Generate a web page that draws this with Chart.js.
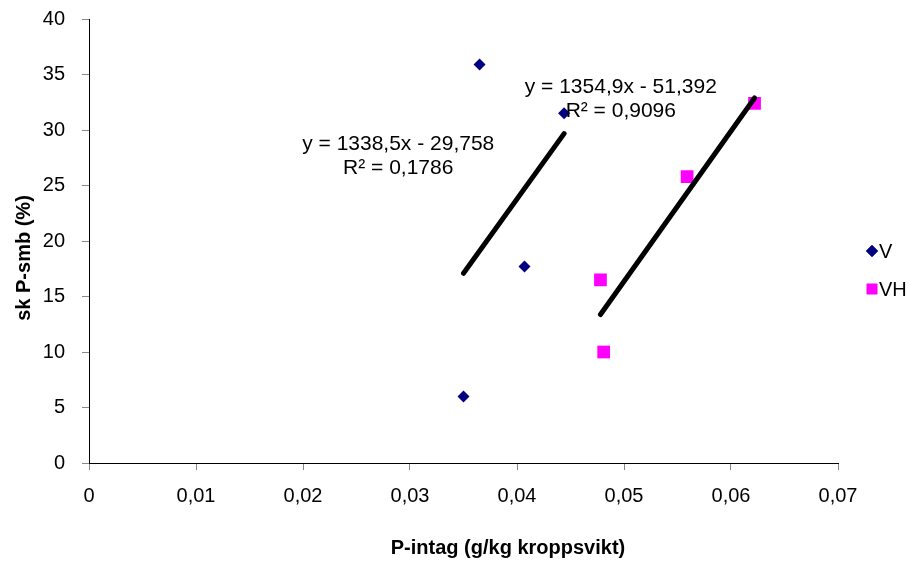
<!DOCTYPE html>
<html>
<head>
<meta charset="utf-8">
<script src="https://cdn.jsdelivr.net/npm/chart.js@4/dist/chart.umd.min.js"></script>
<style>
  html, body { margin: 0; padding: 0; background: #fff; }
  #wrap { width: 910px; height: 563px; position: relative; }
</style>
</head>
<body>
<div id="wrap"><canvas id="chart"></canvas></div>
<script>
// ==== Data ====
const vX = [0.0365, 0.0444, 0.0407, 0.0350];
const vY = [35.9, 31.5, 17.7, 6.0];
const vhX = [0.0478, 0.0481, 0.0559, 0.0622];
const vhY = [16.5, 10.0, 25.8, 32.4];

// trend line coefficients (slope, intercept) as printed on the chart
const trendV = [1338.5, -29.758];
const trendVH = [1354.9, -51.392];
const eqV = ["y = 1338,5x - 29,758", "R² = 0,1786"];
const eqVH = ["y = 1354,9x - 51,392", "R² = 0,9096"];

const seriesNames = ["V", "VH"];
const xTitle = "P-intag (g/kg kroppsvikt)";
const yTitle = "sk P-smb (%)";

const FONT = "'Liberation Sans', Arial, sans-serif";
const NAVY = "#000080";
const MAGENTA = "#FF00FF";

const pts = (xs, ys) => xs.map((x, i) => ({ x, y: ys[i] }));
const trendPts = (xs, [m, b]) => {
  const lo = Math.min(...xs), hi = Math.max(...xs);
  return [{ x: lo, y: m * lo + b }, { x: hi, y: m * hi + b }];
};

// ==== Extra drawing: equations, axis titles, legend ====
const annotations = {
  id: "annotations",
  afterDraw(chart) {
    const { ctx, scales: { x, y } } = chart;
    ctx.save();
    ctx.fillStyle = "#000";
    ctx.textAlign = "center";
    ctx.textBaseline = "middle";
    ctx.font = `21px ${FONT}`;
    // equation labels (anchored in data space)
    const eqs = [[eqV, 0.0289, 28.7], [eqVH, 0.0497, 33.9]];
    eqs.forEach(([lines, ex, ey]) => {
      const px = x.getPixelForValue(ex), py = y.getPixelForValue(ey);
      ctx.fillText(lines[0], px, py);
      ctx.fillText(lines[1], px, py + 24);
    });

    // axis titles
    ctx.font = `bold 20px ${FONT}`;
    ctx.fillText(xTitle, 508, 548);
    ctx.save();
    ctx.translate(24, 258);
    ctx.rotate(-Math.PI / 2);
    ctx.fillText(yTitle, 0, 0);
    ctx.restore();

    // legend
    ctx.textAlign = "left";
    ctx.font = `20px ${FONT}`;
    const items = [
      { name: seriesNames[0], style: "rectRot", r: 6, color: NAVY, y: 251 },
      { name: seriesNames[1], style: "rect", r: 7.5, color: MAGENTA, y: 289 }
    ];
    items.forEach(it => {
      ctx.fillStyle = it.color;
      ctx.strokeStyle = it.color;
      Chart.helpers.drawPoint(ctx, { pointStyle: it.style, radius: it.r, borderWidth: 0 }, 872, it.y);
      ctx.fill();
      ctx.fillStyle = "#000";
      ctx.fillText(it.name, 879, it.y + 1);
    });
    ctx.restore();
  }
};

new Chart(document.getElementById("chart"), {
  type: "scatter",
  data: {
    datasets: [
      {
        label: seriesNames[0],
        data: pts(vX, vY),
        order: 1,
        pointStyle: "rectRot",
        pointRadius: 6,
        backgroundColor: NAVY,
        borderColor: NAVY,
        borderWidth: 0
      },
      {
        label: seriesNames[1],
        data: pts(vhX, vhY),
        order: 1,
        pointStyle: "rect",
        pointRadius: 9,
        backgroundColor: MAGENTA,
        borderColor: MAGENTA,
        borderWidth: 0
      },
      {
        label: "trend V",
        data: trendPts(vX, trendV),
        order: 0,
        showLine: true,
        pointRadius: 0,
        borderColor: "#000",
        borderWidth: 5,
        borderCapStyle: "round"
      },
      {
        label: "trend VH",
        data: trendPts(vhX, trendVH),
        order: 0,
        showLine: true,
        pointRadius: 0,
        borderColor: "#000",
        borderWidth: 5,
        borderCapStyle: "round"
      }
    ]
  },
  options: {
    responsive: true,
    maintainAspectRatio: false,
    animation: false,
    layout: { padding: { top: 19, right: 72, bottom: 0, left: 0 } },
    plugins: {
      legend: { display: false },
      tooltip: { enabled: false }
    },
    scales: {
      x: {
        type: "linear",
        min: 0,
        max: 0.07,
        afterFit: s => { s.height = 100; },
        border: { display: true, color: "#000", width: 1 },
        grid: { drawOnChartArea: false, drawTicks: true, tickLength: 7, color: "#888" },
        ticks: {
          stepSize: 0.01,
          padding: 14,
          color: "#000",
          font: { family: FONT, size: 20 },
          callback: v => (v === 0 ? "0" : v.toFixed(2).replace(".", ","))
        }
      },
      y: {
        min: 0,
        max: 40,
        afterFit: s => { s.width = 89; s.paddingTop = 0; s.paddingBottom = 0; },
        border: { display: true, color: "#000", width: 1 },
        grid: { drawOnChartArea: false, drawTicks: true, tickLength: 7, color: "#888" },
        ticks: {
          stepSize: 5,
          padding: 17,
          color: "#000",
          font: { family: FONT, size: 20 }
        }
      }
    }
  },
  plugins: [annotations]
});
</script>
</body>
</html>
